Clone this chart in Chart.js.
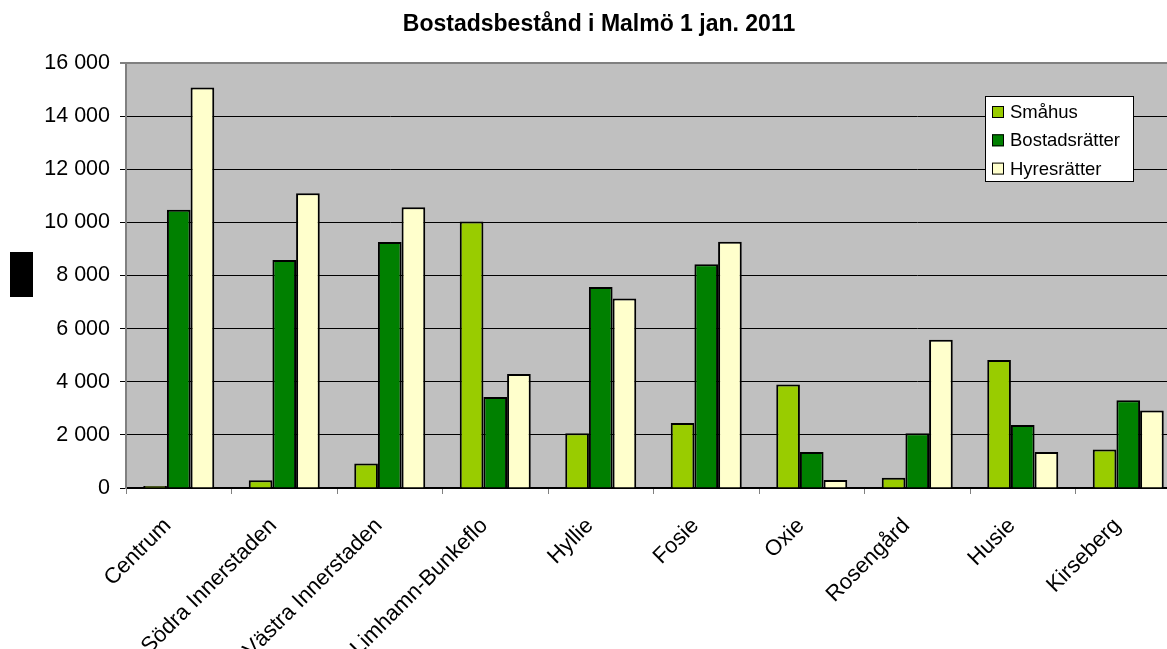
<!DOCTYPE html>
<html>
<head>
<meta charset="utf-8">
<script src="https://cdn.jsdelivr.net/npm/chart.js@4.4.0/dist/chart.umd.min.js"></script>
<style>
  html, body { margin: 0; padding: 0; background: #fff; overflow: hidden; }
  #wrap { position: relative; width: 1190px; height: 649px; }
</style>
</head>
<body>
<div id="wrap"><canvas id="chart"></canvas></div>
<script>
// Bostadsbestånd per stadsdel, 1 jan 2011
const categories = ['Centrum', 'Södra Innerstaden', 'Västra Innerstaden', 'Limhamn-Bunkeflo', 'Hyllie',
  'Fosie', 'Oxie', 'Rosengård', 'Husie', 'Kirseberg'];
const seriesNames = ['Småhus', 'Bostadsrätter', 'Hyresrätter'];
const smahus = [80, 290, 920, 10030, 2060, 2450, 3900, 390, 4820, 1450];
const bostadsratter = [10480, 8580, 9260, 3430, 7570, 8420, 1360, 2060, 2370, 3300];
const hyresratter = [15080, 11100, 10570, 4290, 7130, 9270, 300, 5580, 1360, 2920];
const yMin = 0;
const yMax = 16000;
const yStep = 2000;

const colors = ['#99cc00', '#008000', '#ffffcc'];
const FONT = "'Liberation Sans', Arial, sans-serif";

Chart.defaults.font.family = FONT;
Chart.defaults.color = '#000';

// grey plot area behind the bars
const plotBackground = {
  id: 'plotBackground',
  beforeDraw(chart) {
    const { ctx, chartArea: a } = chart;
    ctx.save();
    ctx.fillStyle = '#c0c0c0';
    ctx.fillRect(a.left, a.top, a.right - a.left, a.bottom - a.top);
    ctx.restore();
  }
};

// legend box inside the plot, plus the blacked-out axis title
const boxLegend = {
  id: 'boxLegend',
  afterDraw(chart) {
    const { ctx, chartArea: a } = chart;
    ctx.save();
    const left = a.right - 196, top = a.top + 33, w = 148, h = 85;
    ctx.fillStyle = '#fff';
    ctx.fillRect(left, top, w, h);
    ctx.strokeStyle = '#000';
    ctx.lineWidth = 1;
    ctx.strokeRect(left + 0.5, top + 0.5, w, h);
    ctx.font = '18.5px ' + FONT;
    ctx.textBaseline = 'middle';
    chart.data.datasets.forEach((ds, i) => {
      const cy = top + 16 + i * 28.3;
      ctx.fillStyle = ds.backgroundColor;
      ctx.fillRect(left + 7, cy - 6, 12, 12);
      ctx.strokeRect(left + 7.5, cy - 5.5, 11, 11);
      ctx.fillStyle = '#000';
      ctx.fillText(ds.label, left + 25, cy + 1);
    });

    const cy = (a.top + a.bottom) / 2 - 1;
    ctx.fillStyle = '#000';
    ctx.fillRect(10, cy - 22.5, 23, 45);
    ctx.restore();
  }
};

new Chart(document.getElementById('chart'), {
  type: 'bar',
  data: {
    labels: categories,
    datasets: [
      { label: seriesNames[0], data: smahus, backgroundColor: colors[0] },
      { label: seriesNames[1], data: bostadsratter, backgroundColor: colors[1] },
      { label: seriesNames[2], data: hyresratter, backgroundColor: colors[2] }
    ]
  },
  options: {
    responsive: true,
    maintainAspectRatio: false,
    animation: false,
    datasets: {
      bar: {
        borderColor: '#000',
        borderWidth: 2,
        barPercentage: 1,
        categoryPercentage: 0.673
      }
    },
    layout: { padding: { left: 17, right: 9, top: 0, bottom: 0 } },
    plugins: {
      legend: { display: false },
      tooltip: { enabled: false },
      title: {
        display: true,
        text: 'Bostadsbestånd i Malmö 1 jan. 2011',
        font: { size: 23, weight: 'bold', family: FONT },
        color: '#000',
        padding: { top: 11, bottom: 24.4 }
      }
    },
    scales: {
      x: {
        offset: true,
        grid: { offset: true, drawOnChartArea: false, tickLength: 6, color: '#808080' },
        border: { color: '#000', width: 2 },
        ticks: {
          minRotation: 45, maxRotation: 45, font: { size: 22 }, color: '#000',
          padding: 19, labelOffset: -11
        },
        afterFit(scale) { scale.height = 161; }
      },
      y: {
        min: yMin,
        max: yMax,
        grid: {
          color: ctx => (ctx.tick && ctx.tick.value === yMax ? '#808080' : '#000'),
          lineWidth: ctx => (ctx.tick && ctx.tick.value === yMax ? 2 : 1),
          tickLength: 6
        },
        border: { color: '#808080', width: 2 },
        ticks: {
          stepSize: yStep,
          font: { size: 21.5 },
          color: '#000',
          padding: 10,
          callback: v => String(v).replace(/\B(?=(\d{3})+(?!\d))/g, ' ')
        },
        afterFit(scale) { scale.width = 109; }
      }
    }
  },
  plugins: [plotBackground, boxLegend]
});
</script>
</body>
</html>
